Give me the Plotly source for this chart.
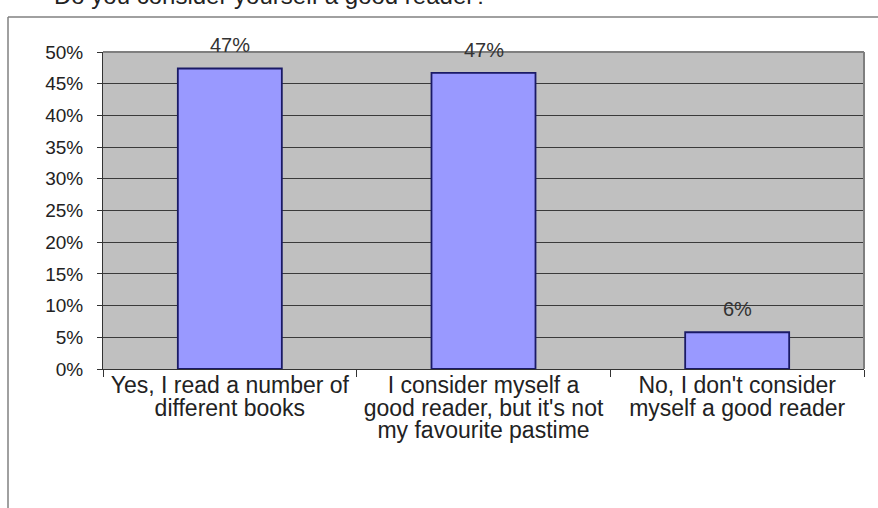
import plotly.graph_objects as go

# Survey answers and their shares
category_lines = [
    ["Yes, I read a number of", "different books"],
    ["I consider myself a", "good reader, but it's not", "my favourite pastime"],
    ["No, I don't consider", "myself a good reader"],
]
shares = [0.474, 0.467, 0.058]
y_ticks = [i * 0.05 for i in range(11)]
title_text = "Do you consider yourself a good reader?"

FONT = "Liberation Sans, Arial, sans-serif"

# Tick text: larger glyphs on a tighter line pitch
categories = ["<br>".join(lines) for lines in category_lines]
tick_text = ["<br>".join(f"<span style='font-size:23px'>{ln}</span>" for ln in lines)
             for lines in category_lines]

fig = go.Figure(
    go.Bar(
        x=categories,
        y=shares,
        marker=dict(color="#9999ff", line=dict(color="#1a1a66", width=1.8)),
        width=0.41,
        hoverinfo="x+y",
    )
)

# Value labels above the bars
for cat, v in zip(categories, shares):
    fig.add_annotation(x=cat, y=v, text=f"{v:.0%}", showarrow=False,
                       yanchor="bottom", yshift=10,
                       font=dict(family=FONT, size=20, color="#333333"))

fig.update_layout(
    width=878,
    height=508,
    margin=dict(l=103, r=14, t=52, b=139),
    paper_bgcolor="white",
    plot_bgcolor="#c0c0c0",
    showlegend=False,
    font=dict(family=FONT, size=17, color="#222222"),
)

fig.update_yaxes(
    range=[0, 0.5],
    tickvals=y_ticks,
    tickformat=".0%",
    showgrid=True,
    gridcolor="#3a3a3a",
    gridwidth=1,
    showline=True,
    linecolor="#333333",
    linewidth=1,
    ticks="outside",
    ticklen=5,
    tickcolor="#333333",
    ticklabelstandoff=10,
    zeroline=False,
    tickfont=dict(family=FONT, size=19, color="#222222"),
)

fig.update_xaxes(
    type="category",
    tickson="boundaries",
    tickvals=categories,
    ticktext=tick_text,
    ticks="outside",
    ticklen=7,
    tickcolor="#333333",
    ticklabelstandoff=3,
    showline=True,
    linecolor="#333333",
    linewidth=1,
    showgrid=False,
    tickfont=dict(family=FONT, size=17, color="#222222"),
)

# Plot area border (top and right edges)
fig.add_shape(type="line", xref="paper", yref="paper", x0=0, x1=1, y0=1, y1=1,
              line=dict(color="#7f7f7f", width=2))
fig.add_shape(type="line", xref="paper", yref="paper", x0=1, x1=1, y0=0, y1=1,
              line=dict(color="#7f7f7f", width=2))

# Outer chart frame (left and top edges)
fx0 = (8 - 103) / 761
fy_top = (369 - 17) / 317
fy_bot = (369 - 520) / 317
fig.add_shape(type="line", xref="paper", yref="paper", x0=fx0, x1=1.1, y0=fy_top, y1=fy_top,
              line=dict(color="#808080", width=1.5))
fig.add_shape(type="line", xref="paper", yref="paper", x0=fx0, x1=fx0, y0=fy_top, y1=fy_bot,
              line=dict(color="#808080", width=1.5))

# Chart title, sitting just above the frame
fig.add_annotation(text=title_text, xref="paper", yref="paper",
                   x=(52 - 103) / 761, y=(369 + 5) / 317, xanchor="left", yanchor="middle",
                   showarrow=False, font=dict(family=FONT, size=24, color="#222222"))

fig.write_html("out.html")
